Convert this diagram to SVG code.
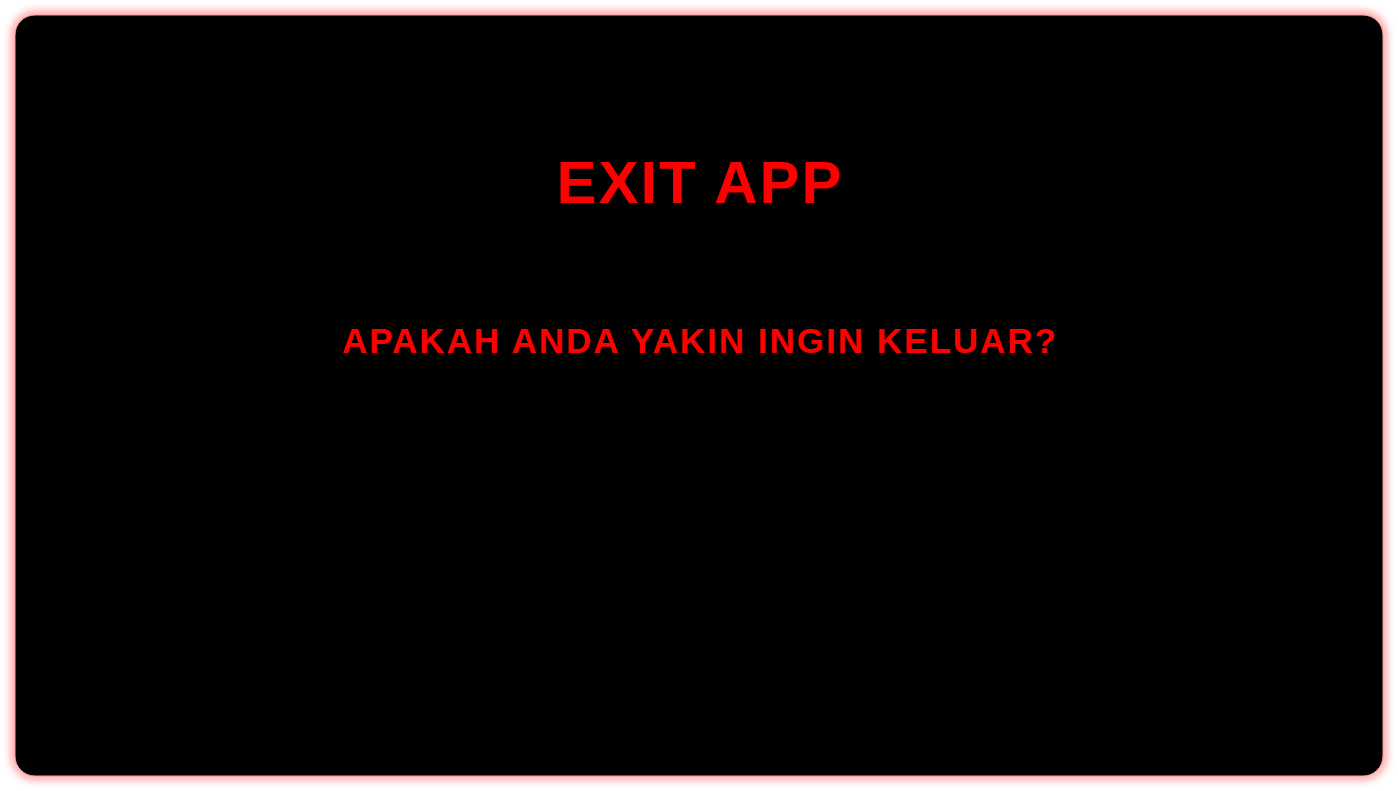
<svg xmlns="http://www.w3.org/2000/svg" width="1398" height="791" viewBox="0 0 1398 791">
  <defs>
    <filter id="glow" x="-5%" y="-5%" width="110%" height="110%">
      <feGaussianBlur stdDeviation="4"/>
    </filter>
    <style>
      .t { font-family: "Liberation Sans", Arial, sans-serif; font-weight: bold; fill: #ff0000; text-anchor: middle; }
    </style>
  </defs>
  <rect width="1398" height="791" fill="#ffffff"/>
  <g id="panel">
    <rect x="15" y="15" width="1368" height="761" rx="20" fill="none" stroke="#ff5a5a" stroke-width="6" filter="url(#glow)" opacity="0.8"/>
    <rect x="15" y="15" width="1368" height="761" rx="20" fill="#000000" stroke="#ff9a9a" stroke-width="1"/>
  </g>
  <g id="title">
    <text class="t" x="700" y="203" font-size="60" letter-spacing="2">EXIT APP</text>
  </g>
  <g id="question">
    <text class="t" x="700" y="353" font-size="35" letter-spacing="2">APAKAH ANDA YAKIN INGIN KELUAR?</text>
  </g>
</svg>
